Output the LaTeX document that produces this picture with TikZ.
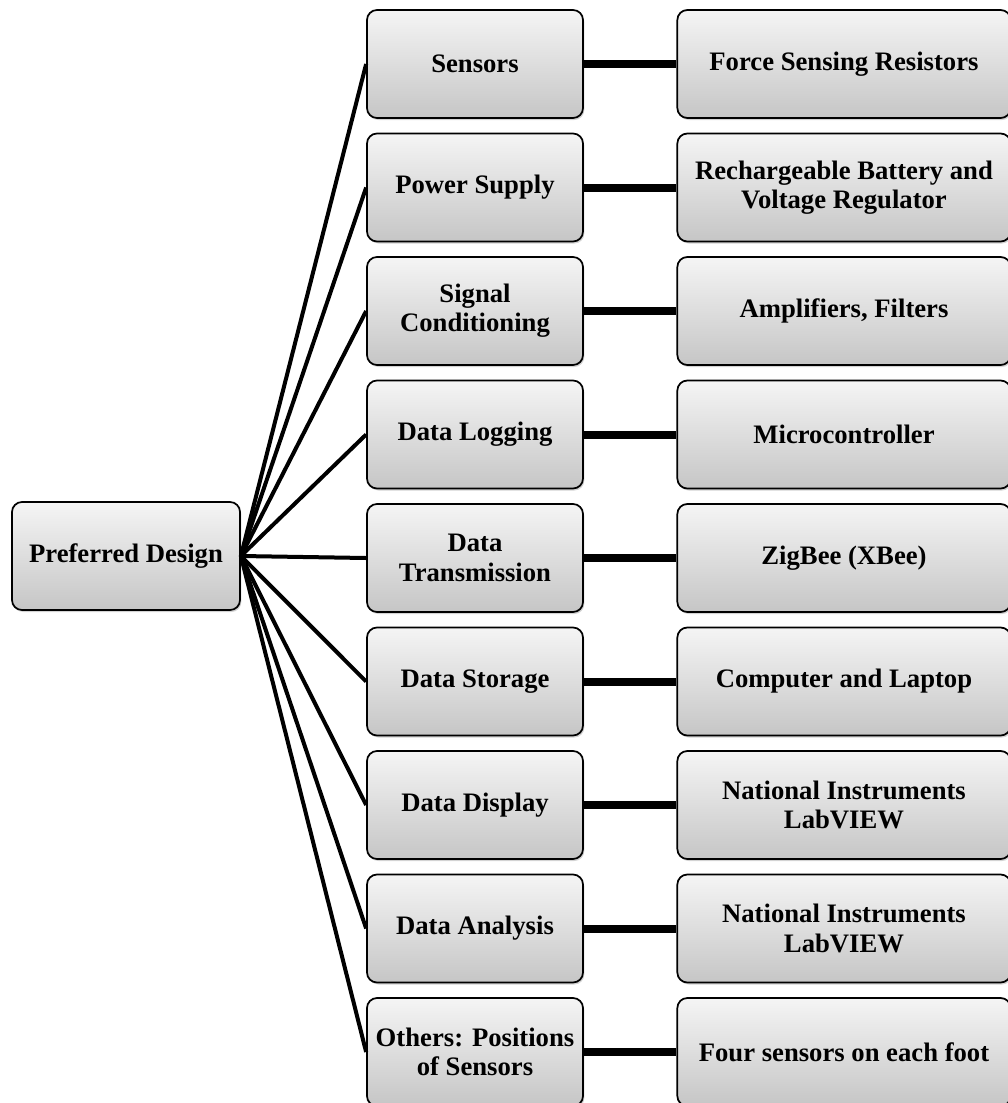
\documentclass[tikz,border=0pt]{standalone}
\usepackage{fontspec}
\setmainfont{Liberation Serif}
\usetikzlibrary{shadows}

\tikzset{
  box/.style={draw=black, line width=1.3pt, rounded corners=7.5pt,
    top color=gray!8, bottom color=gray!45, align=center,
    font=\fontsize{20}{22}\selectfont\bfseries, inner sep=2pt,
    minimum height=81pt,
    drop shadow={shadow xshift=1pt, shadow yshift=-1.5pt, opacity=0.35}},
  fan/.style={line width=3pt},
  link/.style={line width=6pt}
}

\begin{document}
\begin{tikzpicture}[x=0.75pt, y=-0.75pt]
  \useasboundingbox (0,0) rectangle (1007,1103);

  % Root
  \node[box, minimum width=171pt] (root) at (126,556) {Preferred Design};

  % Branches and leaves
  \foreach \i/\mid/\leaf in {
      1/Sensors/Force Sensing Resistors,
      2/Power Supply/Rechargeable Battery and\\Voltage Regulator,
      3/Signal\\Conditioning/{Amplifiers, Filters},
      4/Data Logging/Microcontroller,
      5/Data\\Transmission/ZigBee (XBee),
      6/Data Storage/Computer and Laptop,
      7/Data Display/National Instruments\\LabVIEW,
      8/Data Analysis/National Instruments\\LabVIEW,
      9/Others: Positions\\of Sensors/Four sensors on each foot} {
    \node[box, minimum width=162pt] (mid\i) at (475, {64+123.5*(\i-1)}) {\mid};
    \node[box, minimum width=250pt] (leaf\i) at (844, {64+123.5*(\i-1)}) {\leaf};
    \draw[fan] (root.east) -- (mid\i.west);
    \draw[link] (mid\i.east) -- (leaf\i.west);
  }
\end{tikzpicture}
\end{document}
